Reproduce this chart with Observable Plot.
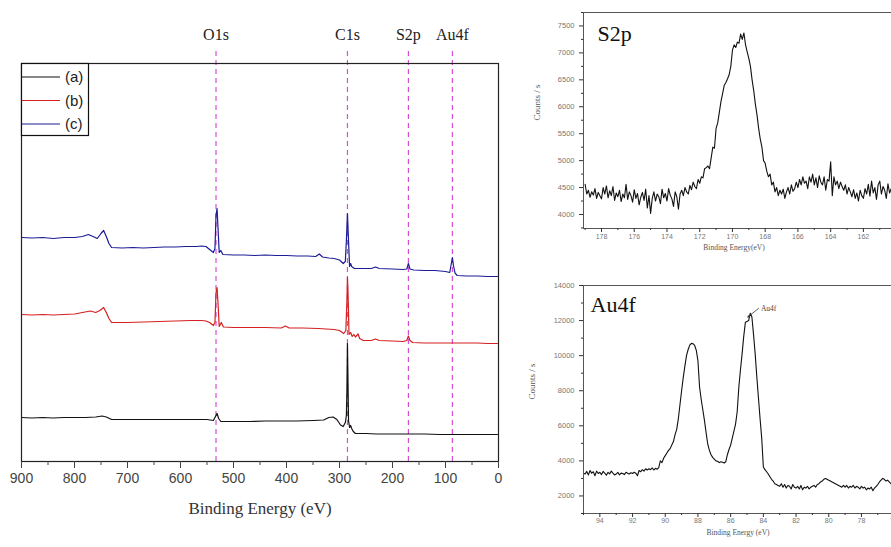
<!DOCTYPE html>
<html><head><meta charset="utf-8">
<script src="https://cdn.jsdelivr.net/npm/d3@7"></script>
<script src="https://cdn.jsdelivr.net/npm/@observablehq/plot@0.6"></script>
<style>
html,body{margin:0;padding:0;background:#fff;overflow:hidden}
#root{position:relative;width:891px;height:547px;overflow:hidden;background:#fff}
.panel{position:absolute}
.panel svg{max-width:none !important;display:block}
</style></head><body><div id="root"></div>
<script>
// ---------- survey spectrum (left) ----------
const surveyTicks = [900,800,700,600,500,400,300,200,100,0];
const surveyMinorTicks = [850,750,650,550,450,350,250,150,50];
const peakNames = ["O1s","C1s","S2p","Au4f"];
const peakEnergies = [533,285,170,87];
const seriesNames = ["(a)","(b)","(c)"];
const seriesColors = ["#111111","#d42020","#1c1c96"];

const aEnergy = [900,880,860,840,820,800,780,760,748,740,730,700,670,640,610,580,550,538,534,531,528,524,500,470,440,410,380,350,330,320,312,305,298,293,289,287,286,285,284,283,281,279,277,274,270,250,230,200,170,140,110,80,50,20,2];
const aCounts  = [44,43.5,44,43.5,44,44,44,44.5,45.5,44.5,42,42,42,42,42,42,42,41,45,48,43,40,40,40,40.5,40.5,40.5,41,41.5,44,44.5,42,36.5,35,39,46,71,118,81,41,34,36,33,30,28,28,27.5,27.5,27.5,27.5,27,27,27,27,27];

const bEnergy = [900,880,860,840,820,800,785,770,760,752,745,740,735,730,700,670,640,610,580,560,552,545,538,535,533,531,529,527,523,519,500,470,440,410,402,395,370,340,310,300,292,288,286,285,284,282,279,276,273,270,265,262,255,240,232,225,200,180,173,170,167,162,140,120,100,80,60,40,20,2];
const bCounts  = [147,146.5,147,146.5,147,147.5,149,150.5,149,151,154,149,143,139,139,139.5,140,140.5,141,141,140.5,139,136,139,169,174,156,135,139,134.5,134,134,134,133.5,135.5,133.5,133.5,133,132,131,128,131,161,184,171,127,129,125,127,124.5,127.5,123,121,121,122.5,121,120.5,120,121,125.5,121,119,118.5,118.5,118.5,118.5,118.5,118.5,118,118];

const cEnergy = [900,880,860,840,820,800,785,774,765,757,750,745,740,735,730,710,690,670,650,630,610,590,570,560,552,545,538,535,533,531,529,527,524,520,500,480,460,440,420,400,380,360,345,338,332,320,310,300,293,289,287,285,283,281,279,277,272,260,240,232,225,200,180,173,170,167,160,140,120,100,92,89,87,85,82,78,60,40,20,2];
const cCounts  = [224,223.5,224,223,224,224,225,227,225,223,228,231,225,218,214,213.5,214,213.5,214,214.5,214.5,215,215,215.5,215,212,209,213,246,253,231,209,211,207,206.5,206.5,206,206.5,206,206,205.5,205.5,205,207.5,204.5,203.5,203,201.5,198,200,221,248,221,195,198,195,193,193,193,194.5,193,192.5,192,192.5,198,192.5,191.5,191,191,190,189,198,204,196,188.5,186,185.5,185.5,185,185];

// ---------- S2p high-resolution (top right), 179.0 -> 159.0 eV, 0.1 eV steps ----------
const s2pStart = 179.0, s2pStep = 0.1;
const s2pCounts = [
4560,4380,4450,4320,4420,4360,4480,4300,4410,4350,
4290,4500,4380,4530,4310,4440,4350,4520,4260,4400,
4330,4450,4240,4380,4310,4560,4280,4420,4350,4230,
4460,4300,4390,4180,4320,4410,4260,4470,4120,4350,
4020,4300,4420,4250,4380,4330,4200,4470,4310,4390,
4250,4480,4360,4290,4150,4420,4330,4100,4380,4450,
4350,4500,4420,4380,4540,4460,4600,4520,4480,4650,
4580,4700,4680,4850,4870,4900,4850,5050,5250,5230,
5600,5700,5900,6100,6250,6400,6450,6520,6600,6750,
7050,7150,7100,7200,7180,7350,7250,7370,7150,7020,
6900,6750,6500,6300,6050,5850,5600,5400,5250,5000,
4950,4800,4700,4750,4550,4600,4420,4500,4350,4450,
4380,4470,4300,4420,4500,4380,4550,4430,4480,4600,
4500,4650,4550,4700,4580,4620,4480,4700,4600,4750,
4550,4680,4500,4720,4600,4550,4700,4450,4650,4620,
4980,4350,4700,4550,4620,4480,4600,4520,4450,4550,
4380,4500,4420,4330,4460,4300,4400,4250,4450,4350,
4300,4480,4380,4560,4340,4620,4400,4500,4280,4550,
4620,4380,4520,4450,4300,4570,4400,4480,4350,4600,
4500,4420,4550,4380,4480,4330,4450,4520,4400,4470,
4420];
const s2pXTicks = [178,176,174,172,170,168,166,164,162,160];
const s2pXMinor = [179,177,175,173,171,169,167,165,163,161,159];
const s2pYTicks = [4000,4500,5000,5500,6000,6500,7000,7500];
const s2pYMinor = [3750,4250,4750,5250,5750,6250,6750,7250,7750];

// ---------- Au4f high-resolution (bottom right), 95.0 -> 75.0 eV, 0.1 eV steps ----------
const au4fStart = 95.0, au4fStep = 0.1;
const au4fCounts = [
3300,3250,3400,3200,3450,3300,3380,3150,3420,3280,
3350,3220,3400,3300,3180,3350,3260,3420,3300,3200,
3250,3350,3200,3300,3280,3220,3350,3300,3250,3320,
3280,3350,3300,3150,3450,3380,3500,3420,3550,3480,
3550,3500,3600,3480,3580,3520,3620,4000,3900,4150,
4300,4450,4600,4700,4900,5100,5500,5800,6400,7200,
8000,8750,9400,10000,10350,10600,10700,10680,10580,10300,
9700,8200,7500,6900,6300,5600,4950,4600,4350,4200,
4100,4000,3980,3900,3950,3920,3880,3950,4350,4650,
4900,5300,5700,6100,6800,8200,9200,10100,11100,11900,
11950,12000,12420,12200,11200,10100,8800,7600,6400,5300,
3650,3500,3380,3250,3100,2950,2850,2700,2650,2600,
2550,2700,2500,2650,2450,2600,2550,2400,2650,2500,
2450,2550,2400,2600,2350,2500,2450,2550,2400,2500,
2550,2600,2500,2650,2700,2800,2850,2950,3000,2950,
2900,2850,2800,2750,2700,2650,2600,2550,2500,2600,
2500,2600,2450,2550,2500,2600,2450,2550,2500,2400,
2550,2450,2500,2350,2450,2400,2500,2300,2450,2550,
2650,2800,2900,3000,2950,2850,2900,2800,2700,2600,
2550,2500,2450,2400,2500,2450,2400,2350,2400,2450,
2400];
const au4fXTicks = [94,92,90,88,86,84,82,80,78,76];
const au4fXMinor = [95,93,91,89,87,85,83,81,79,77,75];
const au4fYTicks = [2000,4000,6000,8000,10000,12000,14000];
const au4fYMinor = [1000,3000,5000,7000,9000,11000,13000];

// ---------- build ----------
const SANS = "'Liberation Sans', Arial, sans-serif";
const SERIF = "'Liberation Serif', 'Times New Roman', serif";
const root = document.getElementById("root");
function place(el, left, top, w, h) {
  const d = document.createElement("div");
  d.className = "panel"; d.style.left = left + "px"; d.style.top = top + "px";
  d.style.width = w + "px"; d.style.height = h + "px";
  d.appendChild(el); root.appendChild(d);
}

const energies = [aEnergy, bEnergy, cEnergy];
const counts = [aCounts, bCounts, cCounts];
const survey = [];
seriesNames.forEach((name, k) => energies[k].forEach((e, i) => survey.push({series: name, E: e, I: counts[k][i]})));

const left = Plot.plot({
  width: 520, height: 547,
  marginLeft: 21, marginRight: 22, marginTop: 63, marginBottom: 86,
  x: {domain: [900, 0]},
  y: {domain: [0, 398], axis: null},
  color: {domain: seriesNames, range: seriesColors},
  style: {fontFamily: SANS, background: "transparent", overflow: "visible"},
  marks: [
    Plot.ruleX(peakEnergies, {x: d => d, y1: 0, y2: 413, stroke: "#d44fd4", strokeDasharray: "5,4", strokeWidth: 1.2}),
    Plot.line(survey, {x: "E", y: "I", z: "series", stroke: "series", strokeWidth: 1.2}),
    Plot.text(peakNames, {x: (d, i) => peakEnergies[i], y: 427, text: d => d, fontSize: 16, fontFamily: SERIF, fill: "#222"}),
    Plot.frame({stroke: "#222", strokeWidth: 1.2}),
    Plot.axisX(surveyTicks, {tickSize: 7, tickPadding: 5, fontSize: 14, fill: "#444", stroke: "#444", label: null}),
    Plot.axisX(surveyMinorTicks, {tickSize: 4, text: null, stroke: "#444", label: null}),
    Plot.text(["Binding Energy (eV)"], {frameAnchor: "bottom", dy: 52, fontSize: 17, fontFamily: SERIF, fill: "#333"})
  ]
});
place(left, 0, 0, 520, 547);

// legend box
const legend = d3.create("svg").attr("width", 100).attr("height", 140);
legend.append("rect").attr("x", 21.5).attr("y", 63.5).attr("width", 67).attr("height", 72)
  .attr("fill", "white").attr("stroke", "#111").attr("stroke-width", 1.2);
seriesNames.forEach((name, k) => {
  const y = 77 + k * 23.5;
  legend.append("line").attr("x1", 22).attr("x2", 60).attr("y1", y).attr("y2", y)
    .attr("stroke", seriesColors[k]).attr("stroke-width", 1.2);
  legend.append("text").attr("x", 65).attr("y", y + 5).text(name)
    .attr("font-family", SANS).attr("font-size", 15).attr("fill", "#222");
});
place(legend.node(), 0, 0, 100, 140);

function hiRes(opts) {
  const data = opts.values.map((v, i) => ({E: +(opts.start - i * opts.step).toFixed(2), I: v}));
  const fmt = d3.format("d");
  return Plot.plot({
    width: 400, height: opts.height,
    marginLeft: 63, marginRight: opts.mr, marginTop: opts.mt, marginBottom: opts.mb,
    x: {domain: opts.xDomain},
    y: {domain: opts.yDomain},
    style: {fontFamily: SANS, background: "transparent", overflow: "visible"},
    marks: [
      Plot.line(data, {x: "E", y: "I", stroke: "#111", strokeWidth: 1.1}),
      Plot.frame({stroke: "#555", strokeWidth: 1}),
      Plot.axisX(opts.xTicks, {tickSize: 4, tickPadding: opts.xPad, fontSize: 7, fill: "#777", stroke: "#333", tickFormat: fmt, label: null}),
      Plot.axisX(opts.xMinor, {tickSize: 2, text: null, stroke: "#333", label: null}),
      Plot.axisY(opts.yTicks, {tickSize: 4, tickPadding: 5, fontSize: 7.5, fill: "#777", stroke: "#333", tickFormat: fmt, label: null}),
      Plot.axisY(opts.yMinor, {tickSize: 2, text: null, stroke: "#333", label: null}),
      Plot.text([opts.title], {frameAnchor: "top-left", dx: opts.titleDx, dy: opts.titleDy, lineAnchor: "bottom", textAnchor: "start", fontSize: 22, fontFamily: SERIF, fill: "#111", letterSpacing: 1}),
      Plot.text(["Counts / s"], {frameAnchor: "left", dx: opts.ylabDx, rotate: -90, fontSize: 9, fontFamily: SERIF, fill: "#555"}),
      Plot.text([opts.xlab], {frameAnchor: "bottom", dx: opts.xlabDx, dy: opts.xlabDy, fontSize: 7.5, fontFamily: SERIF, fill: "#555", letterSpacing: 1.3}),
      ...(opts.extra || [])
    ]
  });
}

place(hiRes({
  values: s2pCounts, start: s2pStart, step: s2pStep, height: 270, mr: 8, mt: 12, mb: 42, xPad: 2,
  xDomain: [179.1, 159], yDomain: [3740, 7750],
  xTicks: s2pXTicks, xMinor: s2pXMinor, yTicks: s2pYTicks, yMinor: s2pYMinor,
  title: "S2p", titleDx: 14, titleDy: 28, ylabDx: -46, xlab: "Binding Energy(eV)", xlabDx: -14, xlabDy: 21
}), 520, 0, 400, 270);

place(hiRes({
  values: au4fCounts, start: au4fStart, step: au4fStep, height: 277, mr: 10, mt: 15, mb: 34, xPad: 1,
  xDomain: [95, 75], yDomain: [1000, 14000],
  xTicks: au4fXTicks, xMinor: au4fXMinor, yTicks: au4fYTicks, yMinor: au4fYMinor,
  title: "Au4f", titleDx: 7, titleDy: 26, ylabDx: -51, xlab: "Binding Energy (eV)", xlabDx: -9, xlabDy: 21,
  extra: [
    Plot.arrow([0], {x1: 84.3, y1: 12690, x2: 84.95, y2: 12200, stroke: "#333", strokeWidth: 0.8, headLength: 3}),
    Plot.text(["Au4f"], {x: 84.15, y: 12690, textAnchor: "start", fontSize: 7.5, fontFamily: SERIF, fill: "#444"})
  ]
}), 520, 270, 400, 277);
</script></body></html>
